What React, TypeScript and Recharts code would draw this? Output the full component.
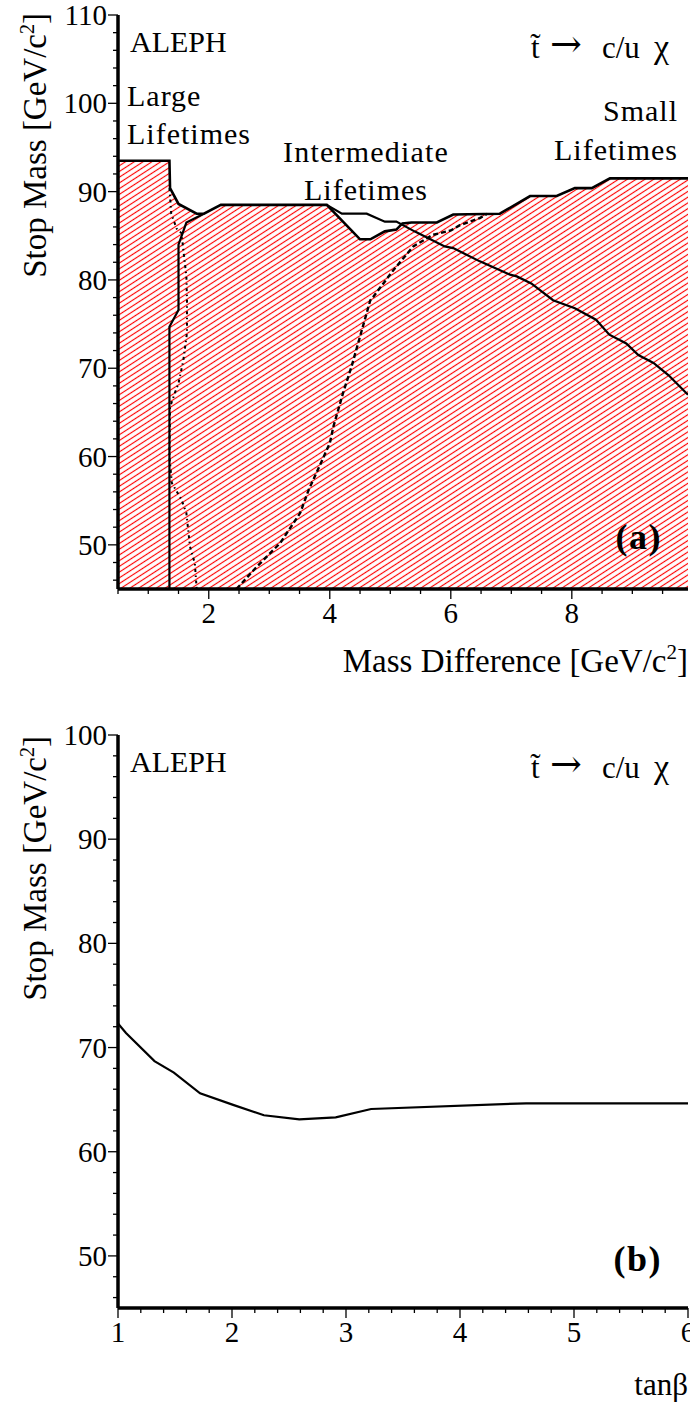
import React from 'react';
import { ComposedChart, Line, Area, XAxis, YAxis } from 'recharts';

const FONT = '"Liberation Serif", "Times New Roman", serif';

// ---------- Panel (a): stop mass vs mass difference ----------
const hatchedRegion = [
  { dm: 0.5, m: 93.5 }, { dm: 1.35, m: 93.5 }, { dm: 1.36, m: 90.4 }, { dm: 1.5, m: 88.6 },
  { dm: 1.8, m: 87.5 }, { dm: 1.92, m: 87.5 }, { dm: 2.2, m: 88.5 }, { dm: 3.95, m: 88.5 },
  { dm: 4.5, m: 84.6 }, { dm: 4.67, m: 84.6 }, { dm: 4.91, m: 85.5 }, { dm: 5.1, m: 85.7 },
  { dm: 5.2, m: 86.4 }, { dm: 5.35, m: 86.5 }, { dm: 5.77, m: 86.5 }, { dm: 6.04, m: 87.4 },
  { dm: 6.81, m: 87.5 }, { dm: 7.31, m: 89.5 }, { dm: 7.75, m: 89.5 }, { dm: 8.05, m: 90.4 },
  { dm: 8.33, m: 90.4 }, { dm: 8.63, m: 91.5 }, { dm: 9.92, m: 91.5 },
];
const largeLifetimeSolid = [
  { dm: 1.35, m: 45 }, { dm: 1.35, m: 74.7 }, { dm: 1.5, m: 76.6 }, { dm: 1.5, m: 84.0 },
  { dm: 1.63, m: 86.5 }, { dm: 1.92, m: 87.5 },
];
const largeLifetimeDotted = [
  { dm: 1.35, m: 90.4 }, { dm: 1.38, m: 87.5 }, { dm: 1.47, m: 85.8 }, { dm: 1.55, m: 85.3 },
  { dm: 1.58, m: 83.4 }, { dm: 1.63, m: 80.4 }, { dm: 1.64, m: 77.7 }, { dm: 1.64, m: 74.0 },
  { dm: 1.58, m: 70.9 }, { dm: 1.5, m: 68.3 }, { dm: 1.44, m: 67.2 }, { dm: 1.36, m: 65.6 },
  { dm: 1.35, m: 60.0 }, { dm: 1.39, m: 57.0 }, { dm: 1.55, m: 55.1 }, { dm: 1.63, m: 53.6 },
  { dm: 1.69, m: 49.8 }, { dm: 1.77, m: 47.9 }, { dm: 1.8, m: 45.0 },
];
const intermediateDashed = [
  { dm: 2.46, m: 45 }, { dm: 2.79, m: 47.5 }, { dm: 3.18, m: 50.2 }, { dm: 3.51, m: 53.6 },
  { dm: 3.65, m: 56.2 }, { dm: 4.0, m: 61.5 }, { dm: 4.06, m: 63.4 }, { dm: 4.22, m: 67.2 },
  { dm: 4.36, m: 70.2 }, { dm: 4.5, m: 73.6 }, { dm: 4.67, m: 77.7 }, { dm: 4.72, m: 78.1 },
  { dm: 5.05, m: 81.1 }, { dm: 5.38, m: 83.8 }, { dm: 5.7, m: 85.1 }, { dm: 6.0, m: 85.6 },
  { dm: 6.15, m: 86.2 }, { dm: 6.48, m: 87.0 }, { dm: 6.6, m: 87.5 },
];
const smallLifetimeSolid = [
  { dm: 3.95, m: 88.5 }, { dm: 4.2, m: 87.5 }, { dm: 4.61, m: 87.5 }, { dm: 4.91, m: 86.6 },
  { dm: 5.1, m: 86.6 }, { dm: 5.4, m: 85.5 }, { dm: 5.9, m: 83.8 }, { dm: 6.04, m: 83.6 },
  { dm: 6.48, m: 82.1 }, { dm: 6.98, m: 80.6 }, { dm: 7.09, m: 80.4 }, { dm: 7.33, m: 79.6 },
  { dm: 7.69, m: 77.7 }, { dm: 8.05, m: 76.8 }, { dm: 8.4, m: 75.5 }, { dm: 8.62, m: 73.8 },
  { dm: 8.9, m: 72.8 }, { dm: 9.1, m: 71.5 }, { dm: 9.35, m: 70.6 }, { dm: 9.6, m: 69.2 },
  { dm: 9.92, m: 67.0 },
];
const massDiffTicks = [0.5, 1, 1.5, 2, 2.5, 3, 3.5, 4, 4.5, 5, 5.5, 6, 6.5, 7, 7.5, 8, 8.5, 9, 9.5];
const massDiffLabels = [2, 4, 6, 8];
const stopMassTicksA = [46, 48, 50, 52, 54, 56, 58, 60, 62, 64, 66, 68, 70, 72, 74, 76, 78, 80, 82, 84, 86, 88, 90, 92, 94, 96, 98, 100, 102, 104, 106, 108, 110];
const stopMassLabelsA = [50, 60, 70, 80, 90, 100, 110];

// ---------- Panel (b): stop mass vs tan beta ----------
const tanBetaCurve = [
  { tb: 1.0, m: 72.3 }, { tb: 1.07, m: 71.4 }, { tb: 1.32, m: 68.7 }, { tb: 1.49, m: 67.6 },
  { tb: 1.72, m: 65.6 }, { tb: 2.01, m: 64.5 }, { tb: 2.28, m: 63.5 }, { tb: 2.59, m: 63.1 },
  { tb: 2.91, m: 63.3 }, { tb: 3.22, m: 64.1 }, { tb: 4.58, m: 64.65 }, { tb: 6.0, m: 64.65 },
];
const tanBetaTicks = [1, 1.2, 1.4, 1.6, 1.8, 2, 2.2, 2.4, 2.6, 2.8, 3, 3.2, 3.4, 3.6, 3.8, 4, 4.2, 4.4, 4.6, 4.8, 5, 5.2, 5.4, 5.6, 5.8, 6];
const tanBetaLabels = [1, 2, 3, 4, 5, 6];
const stopMassTicksB = [46, 48, 50, 52, 54, 56, 58, 60, 62, 64, 66, 68, 70, 72, 74, 76, 78, 80, 82, 84, 86, 88, 90, 92, 94, 96, 98, 100];
const stopMassLabelsB = [50, 60, 70, 80, 90, 100];

const isMajor = (labels: number[], v: number) => labels.some((l) => Math.abs(l - v) < 1e-6);

const makeYTick = (labels: number[]) => (props: any) => {
  const { x, y, payload } = props;
  const major = isMajor(labels, payload.value);
  return (
    <g>
      <line x1={x} x2={x - (major ? 10 : 5)} y1={y} y2={y} stroke="#000" strokeWidth={1.3} />
      {major && (
        <text x={x - 11} y={y + 10} textAnchor="end" fontFamily={FONT} fontSize={29} fill="#000">
          {payload.value}
        </text>
      )}
    </g>
  );
};

const makeXTick = (labels: number[]) => (props: any) => {
  const { x, y, payload } = props;
  const major = isMajor(labels, payload.value);
  return (
    <g>
      <line x1={x} x2={x} y1={y} y2={y + (major ? 10 : 5)} stroke="#000" strokeWidth={1.3} />
      {major && (
        <text x={x} y={y + 34} textAnchor="middle" fontFamily={FONT} fontSize={29} fill="#000">
          {payload.value}
        </text>
      )}
    </g>
  );
};

const frame = { stroke: '#000', strokeWidth: 3.5 };

const PanelA = () => (
  <ComposedChart width={690} height={700} margin={{ top: 15, right: 2, left: 0, bottom: 0 }}>
    <defs>
      <pattern id="hatch" width="12" height="4.8" patternUnits="userSpaceOnUse" patternTransform="rotate(-33)">
        <line x1="0" y1="2.4" x2="12" y2="2.4" stroke="#ff0000" strokeWidth="1.15" />
      </pattern>
    </defs>
    <XAxis
      xAxisId="a"
      dataKey="dm"
      type="number"
      domain={[0.5, 9.92]}
      ticks={massDiffTicks}
      interval={0}
      tickSize={0}
      tickMargin={0}
      tickLine={false}
      tick={makeXTick(massDiffLabels)}
      axisLine={frame}
      height={111}
      allowDataOverflow
    />
    <XAxis xAxisId="top" orientation="top" type="number" domain={[0.5, 9.92]} height={0} tick={false} tickLine={false} axisLine={frame} allowDataOverflow />
    <YAxis
      yAxisId="a"
      type="number"
      domain={[45, 110]}
      ticks={stopMassTicksA}
      interval={0}
      tickSize={0}
      tickMargin={0}
      tickLine={false}
      tick={makeYTick(stopMassLabelsA)}
      axisLine={frame}
      width={118}
      allowDataOverflow
    />
    <YAxis yAxisId="right" orientation="right" type="number" domain={[45, 110]} width={0} tick={false} tickLine={false} axisLine={frame} allowDataOverflow />
    <Area xAxisId="a" yAxisId="a" data={hatchedRegion} dataKey="m" type="linear" baseValue={45} fill="url(#hatch)" fillOpacity={1} stroke="#000" strokeWidth={2.6} isAnimationActive={false} dot={false} activeDot={false} />
    <Line xAxisId="a" yAxisId="a" data={largeLifetimeSolid} dataKey="m" type="linear" stroke="#000" strokeWidth={2.2} dot={false} activeDot={false} isAnimationActive={false} />
    <Line xAxisId="a" yAxisId="a" data={largeLifetimeDotted} dataKey="m" type="linear" stroke="#000" strokeWidth={2} strokeDasharray="3 3.5 1.5 3.5" dot={false} activeDot={false} isAnimationActive={false} />
    <Line xAxisId="a" yAxisId="a" data={intermediateDashed} dataKey="m" type="linear" stroke="#000" strokeWidth={2.4} strokeDasharray="5 3" dot={false} activeDot={false} isAnimationActive={false} />
    <Line xAxisId="a" yAxisId="a" data={smallLifetimeSolid} dataKey="m" type="linear" stroke="#000" strokeWidth={2.2} dot={false} activeDot={false} isAnimationActive={false} />
  </ComposedChart>
);

const PanelB = () => (
  <ComposedChart width={690} height={704} margin={{ top: 35, right: 2, left: 0, bottom: 0 }}>
    <XAxis
      xAxisId="b"
      dataKey="tb"
      type="number"
      domain={[1, 6]}
      ticks={tanBetaTicks}
      interval={0}
      tickSize={0}
      tickMargin={0}
      tickLine={false}
      tick={makeXTick(tanBetaLabels)}
      axisLine={frame}
      height={96}
      allowDataOverflow
    />
    <XAxis xAxisId="top" orientation="top" type="number" domain={[1, 6]} height={0} tick={false} tickLine={false} axisLine={frame} allowDataOverflow />
    <YAxis
      yAxisId="b"
      type="number"
      domain={[45, 100]}
      ticks={stopMassTicksB}
      interval={0}
      tickSize={0}
      tickMargin={0}
      tickLine={false}
      tick={makeYTick(stopMassLabelsB)}
      axisLine={frame}
      width={118}
      allowDataOverflow
    />
    <YAxis yAxisId="right" orientation="right" type="number" domain={[45, 100]} width={0} tick={false} tickLine={false} axisLine={frame} allowDataOverflow />
    <Line xAxisId="b" yAxisId="b" data={tanBetaCurve} dataKey="m" type="linear" stroke="#000" strokeWidth={2.2} dot={false} activeDot={false} isAnimationActive={false} />
  </ComposedChart>
);

const T = (p: any) => <text fontFamily={FONT} fill="#000" {...p} />;

const Decay = ({ y }: { y: number }) => (
  <g>
    <T x={531} y={y} fontSize={31}>{'t\u0303'}</T>
    <T x={550} y={y - 1} fontSize={38} fontFamily='"DejaVu Serif", serif'>{'\u2192'}</T>
    <T x={602} y={y} fontSize={31}>c/u</T>
    <T x={654} y={y} fontSize={34}>{'\u03C7'}</T>
  </g>
);

const Overlay = () => (
  <svg width={690} height={1404} style={{ position: 'absolute', left: 0, top: 0, pointerEvents: 'none' }}>
    {/* Panel (a) */}
    <T x={130} y={52} fontSize={30}>ALEPH</T>
    <Decay y={58} />
    <T x={127} y={106} fontSize={30} letterSpacing={1}>Large</T>
    <T x={127} y={144} fontSize={30} letterSpacing={1}>Lifetimes</T>
    <T x={366} y={162} fontSize={30} letterSpacing={1.2} textAnchor="middle">Intermediate</T>
    <T x={366} y={200} fontSize={30} letterSpacing={1} textAnchor="middle">Lifetimes</T>
    <T x={678} y={121} fontSize={30} letterSpacing={1} textAnchor="end">Small</T>
    <T x={678} y={160} fontSize={30} letterSpacing={1} textAnchor="end">Lifetimes</T>
    <T x={662} y={549} fontSize={36} fontWeight="bold" letterSpacing={1.5} textAnchor="end">(a)</T>
    <T x={688} y={672} fontSize={33} textAnchor="end">
      Mass Difference [GeV/c<tspan dy={-13} fontSize={21}>2</tspan><tspan dy={13}>]</tspan>
    </T>
    <T transform="translate(46,13) rotate(-90)" fontSize={33} textAnchor="end">
      Stop Mass [GeV/c<tspan dy={-12} fontSize={20}>2</tspan><tspan dy={12}>]</tspan>
    </T>
    {/* Panel (b) */}
    <T x={130} y={772} fontSize={30}>ALEPH</T>
    <Decay y={778} />
    <T x={662} y={1271} fontSize={36} fontWeight="bold" letterSpacing={1.5} textAnchor="end">(b)</T>
    <T x={688} y={1395} fontSize={31} textAnchor="end">{'tan\u03B2'}</T>
    <T transform="translate(46,736) rotate(-90)" fontSize={33} textAnchor="end">
      Stop Mass [GeV/c<tspan dy={-12} fontSize={20}>2</tspan><tspan dy={12}>]</tspan>
    </T>
  </svg>
);

export default function App() {
  return (
    <div style={{ position: 'absolute', left: 0, top: 0, width: 690, height: 1404, background: '#fff' }}>
      <div style={{ position: 'absolute', left: 0, top: 0 }}>
        <PanelA />
      </div>
      <div style={{ position: 'absolute', left: 0, top: 700 }}>
        <PanelB />
      </div>
      <Overlay />
    </div>
  );
}
